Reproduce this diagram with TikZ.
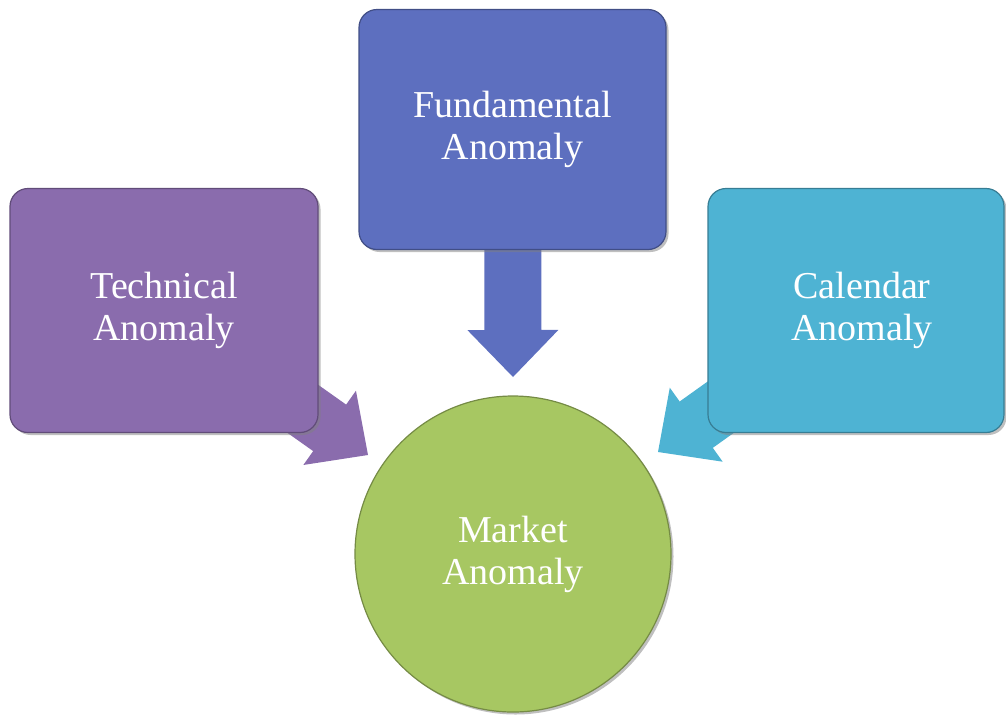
\documentclass[tikz,border=0pt]{standalone}
\usepackage{fontspec}
\setmainfont{Liberation Serif}
\usetikzlibrary{calc,backgrounds,shadows}

\definecolor{techpurple}{HTML}{8A6CAD}
\definecolor{fundblue}{HTML}{5D6FBF}
\definecolor{calcyan}{HTML}{4EB3D3}
\definecolor{marketgreen}{HTML}{A7C762}

% fat arrow from a node centre (#1) to a tip coordinate (#2)
\newcommand{\blockarrow}[3]{%
  \coordinate (#2-base) at ($(#2)!47pt!(#1)$);
  \fill[#3] (#2) -- ($(#2-base)!45.5pt!90:(#2)$) -- ($(#2-base)!28.5pt!90:(#2)$)
      -- ($(#1)!28.5pt!90:(#2-base)$) -- ($(#1)!28.5pt!-90:(#2-base)$)
      -- ($(#2-base)!28.5pt!-90:(#2)$) -- ($(#2-base)!45.5pt!-90:(#2)$) -- cycle;}

\tikzset{
  anomaly/.style={rectangle, rounded corners=18pt, inner sep=0pt, text=white, align=center,
    font=\fontsize{38pt}{42pt}\selectfont, draw=#1!70!black, line width=1.2pt, fill=#1,
    drop shadow={shadow xshift=2.5pt, shadow yshift=-2.5pt, opacity=0.5}},
  market/.style={circle, minimum size=316pt, inner sep=0pt, text=white, align=center,
    font=\fontsize{38pt}{42pt}\selectfont, draw=marketgreen!70!black, line width=1.2pt, fill=marketgreen,
    drop shadow={shadow xshift=2.5pt, shadow yshift=-2.5pt, opacity=0.5}}
}

\begin{document}
\begin{tikzpicture}[x=1pt,y=-1pt]
  \useasboundingbox (0,0) rectangle (1006,716);

  \node[anomaly=techpurple, minimum width=308pt, minimum height=244pt] (tech) at (164,310.5) {Technical\\Anomaly};
  \node[anomaly=fundblue, minimum width=307pt, minimum height=240pt] (fund) at (512.5,129.5) {Fundamental\\Anomaly};
  \node[anomaly=calcyan, minimum width=296pt, minimum height=244pt] (cal) at (856,310.5) {\hspace*{12pt}Calendar\\\hspace*{12pt}Anomaly};
  \node[market] (mkt) at (513,554) {Market\\Anomaly};

  \coordinate (techtip) at (368,455);
  \coordinate (fundtip) at (513,377);
  \coordinate (caltip) at (658,452);

  \begin{scope}[on background layer]
    \blockarrow{tech.center}{techtip}{techpurple}
    \blockarrow{fund.center}{fundtip}{fundblue}
    \blockarrow{cal.center}{caltip}{calcyan}
  \end{scope}
\end{tikzpicture}
\end{document}
